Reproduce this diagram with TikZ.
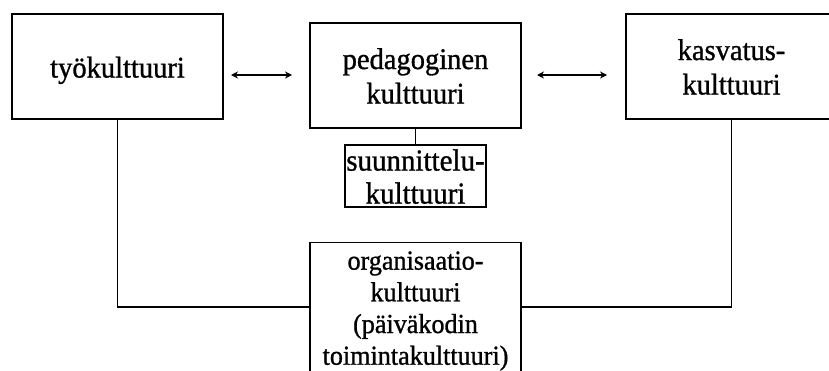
\documentclass[tikz,border=0pt]{standalone}
\usepackage{fontspec}
\setmainfont{Liberation Serif}[FakeStretch=0.95,FakeBold=1]
\usetikzlibrary{arrows.meta}
\begin{document}
\begin{tikzpicture}[x=1pt,y=-1pt,
  box/.style={draw=black, line width=1.2pt, fill=white, inner sep=0pt},
  txt/.style={inner sep=0pt, align=center, anchor=north},
  conn/.style={draw=black, line width=1.2pt},
  twoway/.style={draw=black, line width=1.2pt, {Stealth[length=7pt,width=7pt]}-{Stealth[length=7pt,width=7pt]}},
  fontA/.style={font=\fontsize{30}{34.5}\selectfont},
  fontB/.style={font=\fontsize{30.5}{33}\selectfont},
  fontC/.style={font=\fontsize{27.5}{31.7}\selectfont}
]
\useasboundingbox (0,0) rectangle (829,370);
\clip (0,0) rectangle (829,370);
\fill[white] (0,0) rectangle (829,370);

% boxes
\node[box, minimum width=211pt, minimum height=105pt] (tyo) at (117.5,66.5) {};
\node[box, minimum width=211pt, minimum height=105pt] (ped) at (415.5,75.5) {};
\node[box, minimum width=211pt, minimum height=105pt] (kas) at (731.5,66.5) {};
\node[box, minimum width=141pt, minimum height=62pt] (suu) at (415.5,176) {};
\node[box, minimum width=211pt, minimum height=170pt, anchor=north] (org) at (415.5,242) {};

% texts
\node[txt, fontA] (tyot) at (117.5,56.5) {työkulttuuri};
\node[txt, fontA] (pedt) at (415.5,48) {pedagoginen\\kulttuuri};
\node[txt, fontA] (kast) at (731.5,39) {kasvatus-\\kulttuuri};
\node[txt, fontB] (suut) at (415.5,149.2) {suunnittelu-\\kulttuuri};
\node[txt, fontC] (orgt) at (415.5,251.2) {organisaatio-\\kulttuuri\\(päiväkodin\\toimintakulttuuri)};

% arrows
\coordinate (arrL1) at (231,75);
\coordinate (arrL2) at (292,75);
\coordinate (arrR1) at (537,75);
\coordinate (arrR2) at (607,75);
\draw[twoway] (arrL1) -- (arrL2);
\draw[twoway] (arrR1) -- (arrR2);

% connectors
\draw[conn] (ped.south) -- (suu.north);
\draw[conn] (tyo.south) |- (org.west |- 0,307);
\draw[conn] (kas.south) |- (org.east |- 0,307);
\end{tikzpicture}
\end{document}
